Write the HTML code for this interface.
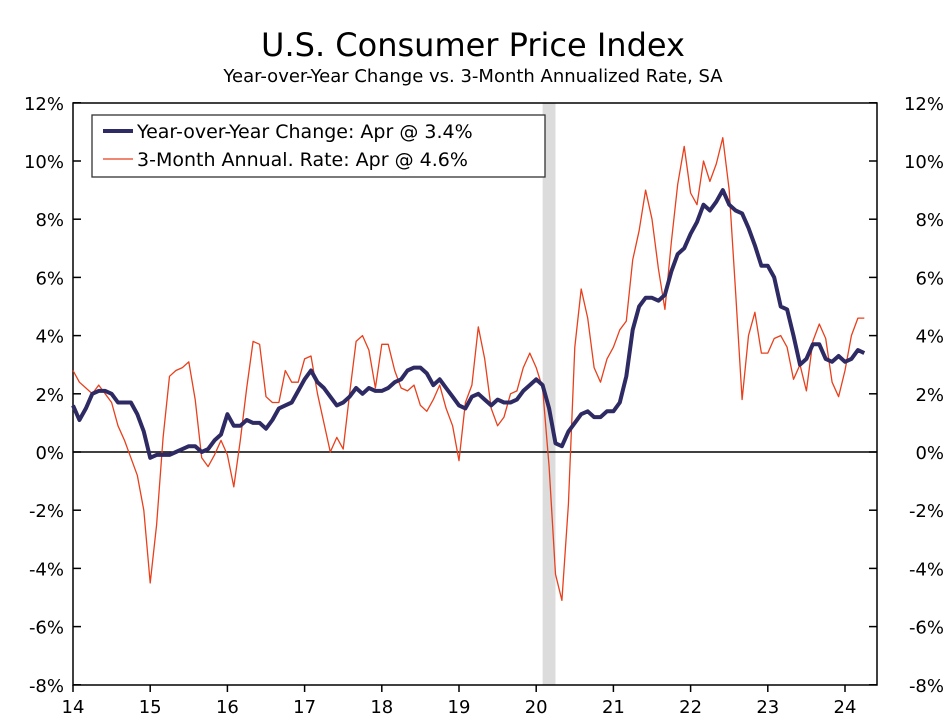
<!DOCTYPE html>
<html><head><meta charset="utf-8"><style>
body{margin:0;background:#fff;}
svg{display:block;font-family:"DejaVu Sans","Liberation Sans",sans-serif;}
</style></head><body>
<svg id="chart" width="947" height="727">
<text x="473" y="56" text-anchor="middle" font-size="32">U.S. Consumer Price Index</text>
<text x="473" y="82" text-anchor="middle" font-size="18">Year-over-Year Change vs. 3-Month Annualized Rate, SA</text>
<g id="plot"></g>
</svg>
<script>
const yoy=[1.6,1.1,1.5,2.0,2.1,2.1,2.0,1.7,1.7,1.7,1.3,0.7,
-0.2,-0.1,-0.1,-0.1,0.0,0.1,0.2,0.2,0.0,0.1,0.4,0.6,
1.3,0.9,0.9,1.1,1.0,1.0,0.8,1.1,1.5,1.6,1.7,2.1,
2.5,2.8,2.4,2.2,1.9,1.6,1.7,1.9,2.2,2.0,2.2,2.1,
2.1,2.2,2.4,2.5,2.8,2.9,2.9,2.7,2.3,2.5,2.2,1.9,
1.6,1.5,1.9,2.0,1.8,1.6,1.8,1.7,1.7,1.8,2.1,2.3,
2.5,2.3,1.5,0.3,0.2,0.7,1.0,1.3,1.4,1.2,1.2,1.4,
1.4,1.7,2.6,4.2,5.0,5.3,5.3,5.2,5.4,6.2,6.8,7.0,
7.5,7.9,8.5,8.3,8.6,9.0,8.5,8.3,8.2,7.7,7.1,6.4,
6.4,6.0,5.0,4.9,4.0,3.0,3.2,3.7,3.7,3.2,3.1,3.3,
3.1,3.2,3.5,3.4];
const ann3m=[2.8,2.4,2.2,2.0,2.3,2.0,1.7,0.9,0.4,-0.2,-0.8,-2.0,
-4.5,-2.5,0.5,2.6,2.8,2.9,3.1,1.8,-0.2,-0.5,-0.1,0.4,
-0.1,-1.2,0.4,2.2,3.8,3.7,1.9,1.7,1.7,2.8,2.4,2.4,
3.2,3.3,2.0,1.0,0.0,0.5,0.1,2.0,3.8,4.0,3.5,2.2,
3.7,3.7,2.8,2.2,2.1,2.3,1.6,1.4,1.8,2.3,1.5,0.9,
-0.3,1.7,2.3,4.3,3.2,1.5,0.9,1.2,2.0,2.1,2.9,3.4,
2.9,2.2,-0.5,-4.2,-5.1,-1.8,3.6,5.6,4.6,2.9,2.4,3.2,
3.6,4.2,4.5,6.6,7.6,9.0,8.0,6.3,4.9,7.2,9.2,10.5,
8.9,8.5,10.0,9.3,9.9,10.8,9.0,5.5,1.8,4.0,4.8,3.4,
3.4,3.9,4.0,3.6,2.5,3.0,2.1,3.8,4.4,3.9,2.4,1.9,
2.8,4.0,4.6,4.6];
const yTicks=[12,10,8,6,4,2,0,-2,-4,-6,-8];
const xLabels=["14","15","16","17","18","19","20","21","22","23","24"];
const recession=[2020+1/12,2020+3/12];

const NS="http://www.w3.org/2000/svg";
const g=document.getElementById('plot');
const L=73,R=877,T=103,B=685;
const yS=v=>452-(v)*(B-T)/20;
const xS=t=>L+(t-2014)*77.2;
function mk(tag,attrs){const e=document.createElementNS(NS,tag);for(const k in attrs)e.setAttribute(k,attrs[k]);g.appendChild(e);return e;}

const rec=mk('rect',{x:xS(recession[0]),y:T,width:xS(recession[1])-xS(recession[0]),height:B-T,fill:'#dcdcdc'});



const zero=mk('line',{x1:L,x2:R,y1:yS(0),y2:yS(0),stroke:'#000','stroke-width':1.5});



const frame=mk('rect',{x:L,y:T,width:R-L,height:B-T,fill:'none',stroke:'#000','stroke-width':1.5});



yTicks.forEach(v=>{
  const y=yS(v);
  const t1=mk('line',{x1:L,x2:L+8,y1:y,y2:y,stroke:'#000','stroke-width':1.5});
  
  
  const t2=mk('line',{x1:R-8,x2:R,y1:y,y2:y,stroke:'#000','stroke-width':1.5});
  
  
  const a=mk('text',{x:L-9,y:y+7,'text-anchor':'end','font-size':18});
  a.textContent=v+'%';
  
  
  const b=mk('text',{x:R+67,y:y+7,'text-anchor':'end','font-size':18});
  b.textContent=v+'%';
  
  
});
xLabels.forEach((s,i)=>{
  const x=xS(2014+i);
  const t=mk('line',{x1:x,x2:x,y1:B,y2:B+7,stroke:'#000','stroke-width':1.5});
  
  
  const l=mk('text',{x:x,y:B+28,'text-anchor':'middle','font-size':18});
  l.textContent=s;
  
  
});
const pts=a=>a.map((v,i)=>xS(2014+i/12).toFixed(1)+','+yS(v).toFixed(1)).join(' ');
const red=mk('polyline',{points:pts(ann3m),fill:'none',stroke:'#e8401c','stroke-width':1.3,'stroke-linejoin':'round'});


const blue=mk('polyline',{points:pts(yoy),fill:'none',stroke:'#2e2a63','stroke-width':4,'stroke-linejoin':'round'});



const lg=mk('rect',{x:92,y:115,width:453,height:62,fill:'#fff',stroke:'#333','stroke-width':1.3});


const l1=mk('line',{x1:103,x2:133,y1:131,y2:131,stroke:'#2e2a63','stroke-width':4});


const lt1=mk('text',{x:137,y:138,'font-size':19});
lt1.textContent='Year-over-Year Change: Apr @ 3.4%';


const l2=mk('line',{x1:103,x2:133,y1:159,y2:159,stroke:'#e8401c','stroke-width':1.3});


const lt2=mk('text',{x:137,y:166,'font-size':19});
lt2.textContent='3-Month Annual. Rate: Apr @ 4.6%';


</script>
</body></html>
